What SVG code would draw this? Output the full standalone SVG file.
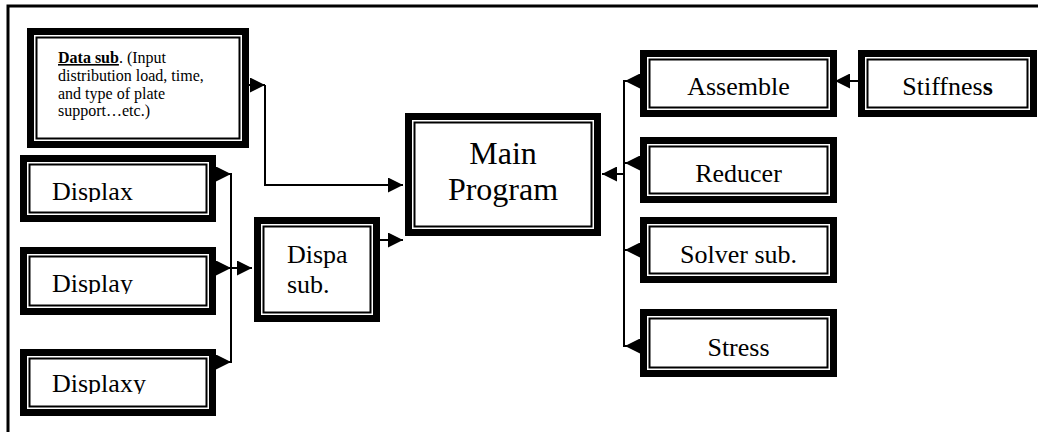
<svg xmlns="http://www.w3.org/2000/svg" width="1038" height="432" viewBox="0 0 1038 432">
<style>
.bx{fill:#fff;stroke:#000;stroke-width:7}
.in{fill:none;stroke:#000;stroke-width:2}
.t{font-family:"Liberation Serif","Times New Roman",serif;fill:#000}
.lbl{font-size:26px}
.ln{fill:none;stroke:#000;stroke-width:2}
</style>
<defs>
<marker id="ah" viewBox="0 0 15 15" markerUnits="userSpaceOnUse" markerWidth="15" markerHeight="15" refX="15" refY="7.5" orient="auto">
<path d="M0,0 L15,7.5 L0,15 Z" fill="#000"/>
</marker>
<clipPath id="c1"><rect x="30" y="165" width="178" height="37"/></clipPath>
<clipPath id="c2"><rect x="30" y="257" width="178" height="37"/></clipPath>
<clipPath id="c3"><rect x="30" y="359" width="178" height="35"/></clipPath>
</defs>
<rect x="8" y="6" width="1040" height="440" fill="none" stroke="#000" stroke-width="3"/>

<g id="data">
<rect class="bx" x="30.5" y="31.5" width="215" height="113"/>
<rect class="in" x="36.5" y="37.5" width="203" height="101"/>
<text class="t" font-size="16" x="58" y="63"><tspan font-weight="bold" text-decoration="underline">Data sub</tspan>. (Input</text>
<text class="t" font-size="16" x="58" y="81">distribution load, time,</text>
<text class="t" font-size="16" x="58" y="98.5">and type of plate</text>
<text class="t" font-size="16" x="58" y="116">support…etc.)</text>
</g>

<g id="displax">
<rect class="bx" x="23.5" y="158.5" width="189" height="60"/>
<rect class="in" x="29.5" y="164.5" width="177" height="48"/>
<text class="t lbl" x="52" y="200" clip-path="url(#c1)">Displax</text>
</g>
<g id="display">
<rect class="bx" x="23.5" y="250.5" width="189" height="61"/>
<rect class="in" x="29.5" y="256.5" width="177" height="49"/>
<text class="t lbl" x="52" y="292" clip-path="url(#c2)">Display</text>
</g>
<g id="displaxy">
<rect class="bx" x="23.5" y="352.5" width="189" height="60"/>
<rect class="in" x="29.5" y="358.5" width="177" height="48"/>
<text class="t lbl" x="52" y="392" clip-path="url(#c3)">Displaxy</text>
</g>

<g id="dispa">
<rect class="bx" x="257.5" y="220.5" width="119" height="98"/>
<rect class="in" x="263.5" y="226.5" width="107" height="86"/>
<text class="t lbl" x="287" y="263">Dispa</text>
<text class="t lbl" x="287" y="293">sub.</text>
</g>

<g id="main">
<rect class="bx" x="408.5" y="116.5" width="189" height="116"/>
<rect class="in" x="414.5" y="122.5" width="177" height="104"/>
<text class="t" font-size="32" x="503" y="164" text-anchor="middle">Main</text>
<text class="t" font-size="32" x="503" y="200" text-anchor="middle">Program</text>
</g>

<g id="assemble">
<rect class="bx" x="643.5" y="53.5" width="190" height="60"/>
<rect class="in" x="649.5" y="59.5" width="178" height="48"/>
<text class="t lbl" x="738.5" y="95" text-anchor="middle">Assemble</text>
</g>
<g id="stiffness">
<rect class="bx" x="861.5" y="53.5" width="172" height="60"/>
<rect class="in" x="867.5" y="59.5" width="160" height="48"/>
<text class="t lbl" x="947.5" y="95" text-anchor="middle">Stiffnes<tspan font-weight="bold">s</tspan></text>
</g>
<g id="reducer">
<rect class="bx" x="643.5" y="140.5" width="190" height="59"/>
<rect class="in" x="649.5" y="146.5" width="178" height="47"/>
<text class="t lbl" x="738.5" y="182" text-anchor="middle">Reducer</text>
</g>
<g id="solver">
<rect class="bx" x="643.5" y="220.5" width="190" height="59"/>
<rect class="in" x="649.5" y="226.5" width="178" height="47"/>
<text class="t lbl" x="738.5" y="263" text-anchor="middle">Solver sub.</text>
</g>
<g id="stress">
<rect class="bx" x="643.5" y="312.5" width="190" height="61"/>
<rect class="in" x="649.5" y="318.5" width="178" height="49"/>
<text class="t lbl" x="738.5" y="356" text-anchor="middle">Stress</text>
</g>

<g id="connectors">
<path class="ln" d="M249,85 H265" marker-end="url(#ah)"/>
<path class="ln" d="M265,85 V185 H403" marker-end="url(#ah)"/>
<path class="ln" d="M216,174 H231" marker-end="url(#ah)"/>
<path class="ln" d="M216,268 H231" marker-end="url(#ah)"/>
<path class="ln" d="M216,362 H231" marker-end="url(#ah)"/>
<path class="ln" d="M231,173 V363"/>
<path class="ln" d="M231,268 H252" marker-end="url(#ah)"/>
<path class="ln" d="M380,240 H403" marker-end="url(#ah)"/>
<path class="ln" d="M640,81 H625" marker-end="url(#ah)"/>
<path class="ln" d="M640,163 H625" marker-end="url(#ah)"/>
<path class="ln" d="M640,250 H625" marker-end="url(#ah)"/>
<path class="ln" d="M640,346 H625" marker-end="url(#ah)"/>
<path class="ln" d="M624,80 V347"/>
<path class="ln" d="M624,174 H602" marker-end="url(#ah)"/>
<path class="ln" d="M858,81 H835" marker-end="url(#ah)"/>
</g>
</svg>
